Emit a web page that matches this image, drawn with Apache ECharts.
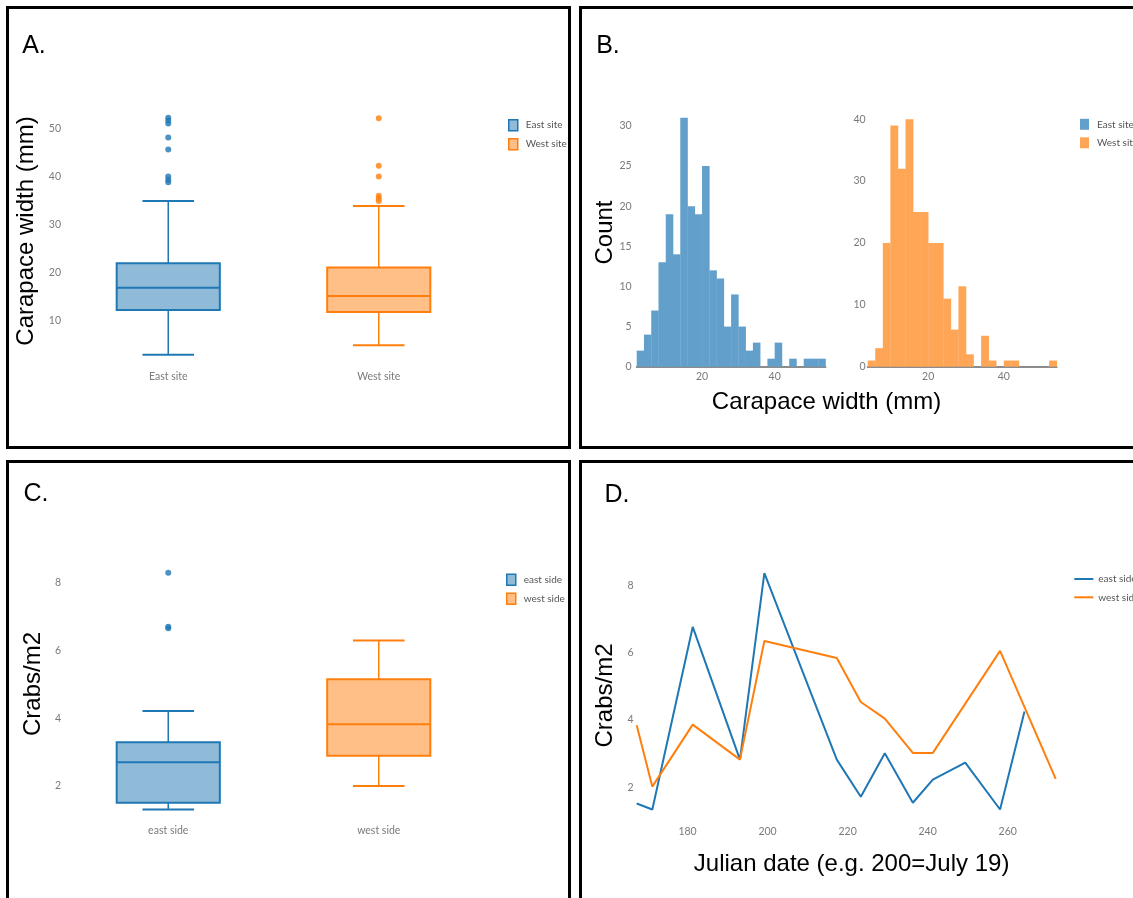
<!DOCTYPE html>
<html>
<head>
<meta charset="utf-8">
<script src="https://cdn.jsdelivr.net/npm/echarts@6.0.0/dist/echarts.min.js"></script>
<style>
    html, body { margin: 0; padding: 0; background: #fff; }
    #chart { position: absolute; left: 0; top: 0; width: 1133px; height: 898px; }
    .frame { position: absolute; border: 3px solid #000; box-sizing: border-box; pointer-events: none; }
</style>
</head>
<body>
<div id="chart"></div>
<div class="frame" style="left:6px;top:6px;width:565px;height:443px"></div>
<div class="frame" style="left:579px;top:6px;width:600px;height:443px"></div>
<div class="frame" style="left:6px;top:460px;width:565px;height:500px"></div>
<div class="frame" style="left:579px;top:460px;width:600px;height:500px"></div>
<script>
    // ---- data ----
    var sites = ['East site', 'West site'];
    var sides = ['east side', 'west side'];

    // A. carapace width (mm): [lower whisker, q1, median, q3, upper whisker]
    var widthEastBox = [3.0, 12.3, 16.9, 22.0, 34.9];
    var widthWestBox = [5.0, 11.9, 15.2, 21.1, 33.9];
    var widthEastOut = [38.8, 39.3, 40.0, 45.6, 48.1, 51.0, 51.6, 52.2];
    var widthWestOut = [34.9, 35.5, 36.0, 40.0, 42.2, 52.1];
    var widthAxisTicks = [10, 20, 30, 40, 50];

    // B. histograms of carapace width, 2 mm bins
    var binWidth = 2;
    var eastBinStart = 2;
    var eastCounts = [2, 4, 7, 13, 19, 14, 31, 20, 19, 25, 12, 11, 5, 9, 5, 2, 3, 0, 1, 3, 0, 1, 0, 1, 1, 1];
    var westBinStart = 4;
    var westCounts = [1, 3, 20, 39, 32, 40, 25, 25, 20, 20, 11, 6, 13, 2, 0, 5, 1, 0, 1, 1, 0, 0, 0, 0, 1];
    var widthTicks = [20, 40];
    var eastCountTicks = [0, 5, 10, 15, 20, 25, 30];
    var westCountTicks = [0, 10, 20, 30, 40];

    // C. crab density (crabs/m2)
    var densEastBox = [1.31, 1.51, 2.70, 3.29, 4.21];
    var densWestBox = [2.00, 2.89, 3.82, 5.15, 6.29];
    var densEastOut = [6.65, 6.70, 8.29];
    var densTicks = [2, 4, 6, 8];

    // D. density by julian date
    var eastDates = [167.3, 171.2, 181.3, 193.1, 199.2, 217.3, 223.3, 229.3, 236.3, 241.3, 249.4, 258.1, 264.2];
    var eastDensity = [1.52, 1.34, 6.76, 2.82, 8.36, 2.82, 1.72, 3.01, 1.54, 2.23, 2.73, 1.34, 4.25];
    var westDates = [167.3, 171.2, 181.3, 193.1, 199.2, 217.3, 223.3, 229.3, 236.3, 241.3, 258.1, 272.0];
    var westDensity = [3.84, 2.02, 3.86, 2.82, 6.34, 5.84, 4.53, 4.04, 3.02, 3.02, 6.05, 2.25];
    var dateTicks = [180, 200, 220, 240, 260];

    var blue = '#1f77b4', orange = '#ff7f0e';
    var blueFill = '#8fbbd9', orangeFill = '#ffbf86';
    var blueHist = '#62a0cb', orangeHist = '#ffa556';
    var tickFont = "Lato, 'Liberation Sans', sans-serif";
    var titleFont = "'Liberation Sans', Arial, sans-serif";

    function pairs(xs, ys) {
        var out = [];
        for (var i = 0; i < xs.length; i++) out.push([xs[i], ys[i]]);
        return out;
    }
    function bins(start, counts) {
        var out = [];
        for (var i = 0; i < counts.length; i++) {
            out.push([start + i * binWidth, start + (i + 1) * binWidth, counts[i]]);
        }
        return out;
    }
    function outliers(idx, vals) {
        return vals.map(function (v) { return [idx, v]; });
    }

    // box with whiskers; caps are half the box width
    function boxRender(lineColor, fillColor) {
        return function (params, api) {
            var c = api.value(0);
            var lo = api.coord([c, api.value(1)]);
            var q1 = api.coord([c, api.value(2)]);
            var md = api.coord([c, api.value(3)]);
            var q3 = api.coord([c, api.value(4)]);
            var hi = api.coord([c, api.value(5)]);
            var half = api.size([1, 0])[0] * 0.245;
            var cx = md[0];
            var thin = { stroke: lineColor, lineWidth: 1.5 };
            var thick = { stroke: lineColor, lineWidth: 2 };
            return {
                type: 'group',
                children: [
                    { type: 'line', shape: { x1: cx, y1: hi[1], x2: cx, y2: q3[1] }, style: thin },
                    { type: 'line', shape: { x1: cx, y1: q1[1], x2: cx, y2: lo[1] }, style: thin },
                    { type: 'line', shape: { x1: cx - half / 2, y1: hi[1], x2: cx + half / 2, y2: hi[1] }, style: thick },
                    { type: 'line', shape: { x1: cx - half / 2, y1: lo[1], x2: cx + half / 2, y2: lo[1] }, style: thick },
                    { type: 'rect', shape: { x: cx - half, y: q3[1], width: half * 2, height: q1[1] - q3[1] },
                      style: { fill: fillColor, stroke: lineColor, lineWidth: 2 } },
                    { type: 'line', shape: { x1: cx - half, y1: md[1], x2: cx + half, y2: md[1] }, style: thick }
                ]
            };
        };
    }

    function histRender(color) {
        return function (params, api) {
            var p0 = api.coord([api.value(0), api.value(2)]);
            var p1 = api.coord([api.value(1), 0]);
            return {
                type: 'rect',
                shape: { x: p0[0], y: p0[1], width: p1[0] - p0[0] + 0.3, height: p1[1] - p0[1] },
                style: { fill: color }
            };
        };
    }

    function labelStyle(margin, custom) {
        var s = { color: '#7a7a7a', fontSize: 10.5, fontFamily: tickFont, margin: margin };
        if (custom) s.customValues = custom;
        return s;
    }
    function valueAxis(grid, min, max, ticks, margin, line) {
        return {
            type: 'value', gridIndex: grid, min: min, max: max,
            axisLine: { show: !!line, lineStyle: { color: '#8c8c8c', width: 2 } },
            axisTick: { show: false }, splitLine: { show: false },
            axisLabel: labelStyle(margin, ticks)
        };
    }
    function catAxis(grid, cats) {
        return {
            type: 'category', gridIndex: grid, data: cats, boundaryGap: true,
            axisLine: { show: false }, axisTick: { show: false }, splitLine: { show: false },
            axisLabel: labelStyle(4)
        };
    }
    function legendText() {
        return { color: '#555', fontSize: 10, fontFamily: tickFont, lineHeight: 12, padding: [0, 0, 0, 3] };
    }
    function boxLegend(names, left, top) {
        return {
            orient: 'vertical', left: left, top: top, itemWidth: 9, itemHeight: 11, itemGap: 6.5,
            textStyle: legendText(),
            data: [
                { name: names[0], icon: 'rect', itemStyle: { color: blueFill, borderColor: blue, borderWidth: 1.5 } },
                { name: names[1], icon: 'rect', itemStyle: { color: orangeFill, borderColor: orange, borderWidth: 1.5 } }
            ]
        };
    }
    function text(str, x, y, size, rot) {
        return {
            type: 'text', x: x, y: y, rotation: rot || 0,
            style: { text: str, font: size + 'px ' + titleFont, fill: '#000',
                     align: 'center', verticalAlign: 'middle', textAlign: 'center', textVerticalAlign: 'middle' }
        };
    }

    var option = {
        animation: false,
        backgroundColor: '#fff',
        grid: [
            { left: 63, top: 105.6, width: 421, height: 261.3, outerBoundsMode: 'none' },
            { left: 636.7, top: 105, width: 188.8, height: 261.7, outerBoundsMode: 'none' },
            { left: 867.7, top: 105, width: 189, height: 261.7, outerBoundsMode: 'none' },
            { left: 63, top: 560.9, width: 421, height: 260.4, outerBoundsMode: 'none' },
            { left: 636.7, top: 560.9, width: 419, height: 260.4, outerBoundsMode: 'none' }
        ],
        xAxis: [
            catAxis(0, sites),
            valueAxis(1, eastBinStart, eastBinStart + eastCounts.length * binWidth, widthTicks, 4, true),
            valueAxis(2, westBinStart, westBinStart + westCounts.length * binWidth, widthTicks, 4, true),
            catAxis(3, sides),
            valueAxis(4, 167.3, 272, dateTicks, 5, false)
        ],
        yAxis: [
            valueAxis(0, 0.5, 54.7, widthAxisTicks, 2, false),
            valueAxis(1, 0, 32.6, eastCountTicks, 5, false),
            valueAxis(2, 0, 42.3, westCountTicks, 2, false),
            valueAxis(3, 0.96, 8.64, densTicks, 2, false),
            valueAxis(4, 0.99, 8.72, densTicks, 3, false)
        ],
        legend: [
            boxLegend(sites, 503, 114),
            {
                orient: 'vertical', left: 1075, top: 113.3, itemWidth: 9, itemHeight: 11, itemGap: 6.5,
                textStyle: legendText(),
                data: [
                    { name: sites[0], icon: 'rect', itemStyle: { color: blueHist, borderWidth: 0 } },
                    { name: sites[1], icon: 'rect', itemStyle: { color: orangeHist, borderWidth: 0 } }
                ]
            },
            boxLegend(sides, 501, 568.5),
            {
                orient: 'vertical', left: 1069.3, top: 568, itemWidth: 19, itemHeight: 2, itemGap: 6.3,
                textStyle: { color: '#555', fontSize: 10, fontFamily: tickFont, lineHeight: 12 },
                data: [
                    { name: sides[0], icon: 'rect', itemStyle: { color: blue } },
                    { name: sides[1], icon: 'rect', itemStyle: { color: orange } }
                ]
            }
        ],
        graphic: [
            text('A.', 34, 46, 25),
            text('B.', 608, 46, 25),
            text('C.', 36, 494, 25),
            text('D.', 617, 495, 25),
            text('Carapace width (mm)', 26.5, 231, 24, Math.PI / 2),
            text('Count', 605, 232.5, 24, Math.PI / 2),
            text('Carapace width (mm)', 826.5, 402, 24),
            text('Crabs/m2', 33.5, 684, 24, Math.PI / 2),
            text('Crabs/m2', 605.5, 695.5, 24, Math.PI / 2),
            text('Julian date (e.g. 200=July 19)', 851.6, 864, 24)
        ],
        series: [
            { name: sites[0], type: 'custom', xAxisIndex: 0, yAxisIndex: 0, renderItem: boxRender(blue, blueFill),
              encode: { x: 0, y: [1, 2, 3, 4, 5] }, data: [[0].concat(widthEastBox)] },
            { name: sites[1], type: 'custom', xAxisIndex: 0, yAxisIndex: 0, renderItem: boxRender(orange, orangeFill),
              encode: { x: 0, y: [1, 2, 3, 4, 5] }, data: [[1].concat(widthWestBox)] },
            { name: 'East site outliers', type: 'scatter', xAxisIndex: 0, yAxisIndex: 0, symbolSize: 6,
              itemStyle: { color: blue }, data: outliers(0, widthEastOut) },
            { name: 'West site outliers', type: 'scatter', xAxisIndex: 0, yAxisIndex: 0, symbolSize: 6,
              itemStyle: { color: orange }, data: outliers(1, widthWestOut) },

            { name: sites[0], type: 'custom', xAxisIndex: 1, yAxisIndex: 1, renderItem: histRender(blueHist),
              encode: { x: [0, 1], y: 2 }, data: bins(eastBinStart, eastCounts) },
            { name: sites[1], type: 'custom', xAxisIndex: 2, yAxisIndex: 2, renderItem: histRender(orangeHist),
              encode: { x: [0, 1], y: 2 }, data: bins(westBinStart, westCounts) },

            { name: sides[0], type: 'custom', xAxisIndex: 3, yAxisIndex: 3, renderItem: boxRender(blue, blueFill),
              encode: { x: 0, y: [1, 2, 3, 4, 5] }, data: [[0].concat(densEastBox)] },
            { name: sides[1], type: 'custom', xAxisIndex: 3, yAxisIndex: 3, renderItem: boxRender(orange, orangeFill),
              encode: { x: 0, y: [1, 2, 3, 4, 5] }, data: [[1].concat(densWestBox)] },
            { name: 'east side outliers', type: 'scatter', xAxisIndex: 3, yAxisIndex: 3, symbolSize: 6,
              itemStyle: { color: blue }, data: outliers(0, densEastOut) },

            { name: sides[0], type: 'line', xAxisIndex: 4, yAxisIndex: 4, showSymbol: false, symbol: 'none',
              lineStyle: { color: blue, width: 2 }, itemStyle: { color: blue }, data: pairs(eastDates, eastDensity) },
            { name: sides[1], type: 'line', xAxisIndex: 4, yAxisIndex: 4, showSymbol: false, symbol: 'none',
              lineStyle: { color: orange, width: 2 }, itemStyle: { color: orange }, data: pairs(westDates, westDensity) }
        ]
    };

    var myChart = echarts.init(document.getElementById('chart'), null, { renderer: 'canvas' });
    myChart.setOption(option);
</script>
</body>
</html>
